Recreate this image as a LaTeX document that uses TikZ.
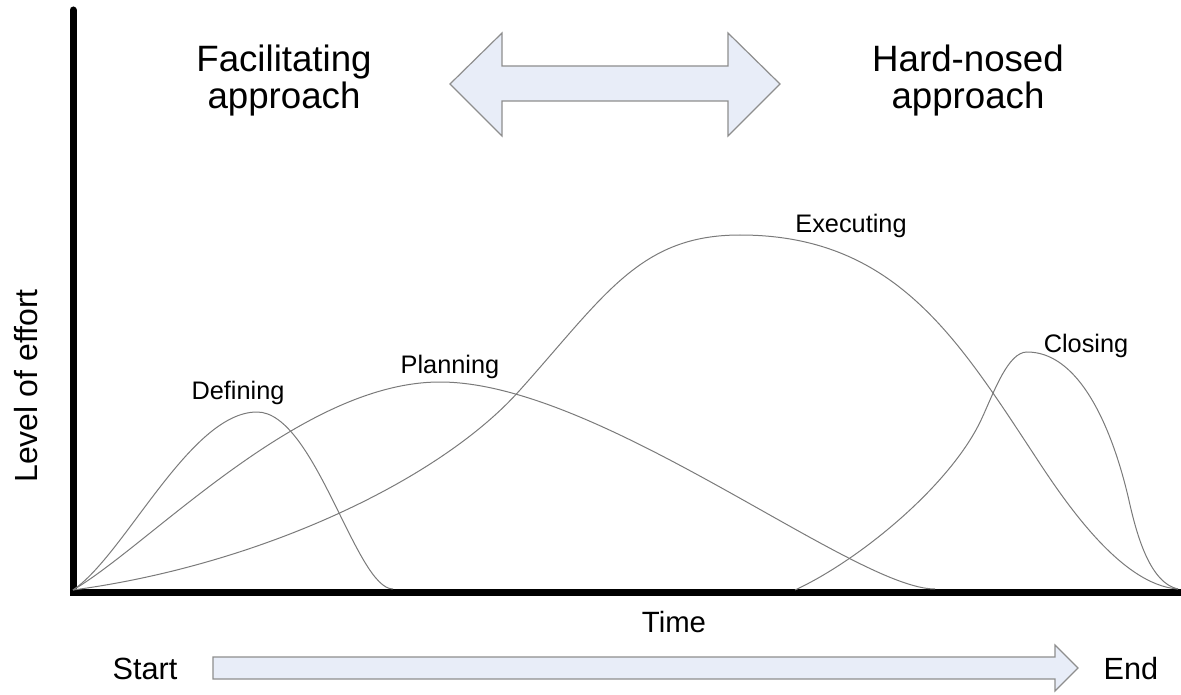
\documentclass[tikz,border=0pt]{standalone}
\usepackage{fontspec}
\setmainfont{Liberation Sans}
\definecolor{curvegray}{HTML}{7A7A7A}
\definecolor{arrowfill}{HTML}{E8EDF8}
\definecolor{arrowedge}{HTML}{8E8E8E}
\begin{document}
\begin{tikzpicture}[x=0.75pt,y=-0.75pt,
  axis/.style={line width=5.25pt,line cap=round,black},
  effort/.style={draw=curvegray,line width=0.75pt},
  band/.style={fill=arrowfill,draw=arrowedge,line width=0.9pt,line join=miter},
  phase/.style={font=\fontsize{19}{22}\selectfont,inner sep=0pt,anchor=base},
  approach/.style={font=\fontsize{27.5}{27.75}\selectfont,align=center,inner sep=0pt},
  axislabel/.style={font=\fontsize{22}{26}\selectfont,inner sep=0pt,anchor=base}]
\useasboundingbox (0,0) rectangle (1181,695);

% axes
\draw[axis] (73,10) -- (73,592) -- (1181,592);

% effort curves of the four phases
% defining
\draw[effort] (73,590) .. controls (125,555) and (190,412) .. (257,412)
  .. controls (315,412) and (356,589) .. (393,589);
% planning
\draw[effort] (73,590) .. controls (150,545) and (300,382) .. (440,382)
  .. controls (600,382) and (854,589) .. (935,589);
% executing
\draw[effort] (73,590) .. controls (260,565) and (440,480) .. (520,390)
  .. controls (605,295) and (640,235) .. (740,235)
  .. controls (893,235) and (956,336) .. (1033,453)
  .. controls (1063,499) and (1120,585) .. (1178,589);
% closing
\draw[effort] (795,590) .. controls (860,560) and (952,484) .. (982,418)
  .. controls (994,392) and (1008,352) .. (1027,352)
  .. controls (1095,352) and (1124,478) .. (1130,505)
  .. controls (1137,535) and (1150,583) .. (1178,589);

% phase labels
\node[phase] (defining) at (238,399) {Defining};
\node[phase] (planning) at (450,373) {Planning};
\node[phase] (executing) at (851,233) {Executing};
\node[phase] (closing) at (1086,352) {Closing};

% approach spectrum
\node[approach] (soft) at (284,81) {Facilitating\\approach};
\node[approach] (hard) at (968,81) {Hard-nosed\\approach};
\draw[band] (450,84) -- (502,33) -- (502,66) -- (728,66) -- (728,33)
  -- (780,84) -- (728,136) -- (728,101) -- (502,101) -- (502,136) -- cycle;

% axis labels
\node[axislabel,font=\fontsize{24}{28}\selectfont,rotate=90] (effortlbl) at (37,386) {Level of effort};
\node[axislabel] (time) at (674,632) {Time};

% time line
\node[axislabel,font=\fontsize{23}{26}\selectfont] (start) at (145,679) {Start};
\node[axislabel,font=\fontsize{23}{26}\selectfont] (end) at (1131,679) {End};
\draw[band] (213,657) -- (1055,657) -- (1055,645) -- (1078,668)
  -- (1055,691) -- (1055,679) -- (213,679) -- cycle;
\end{tikzpicture}
\end{document}
